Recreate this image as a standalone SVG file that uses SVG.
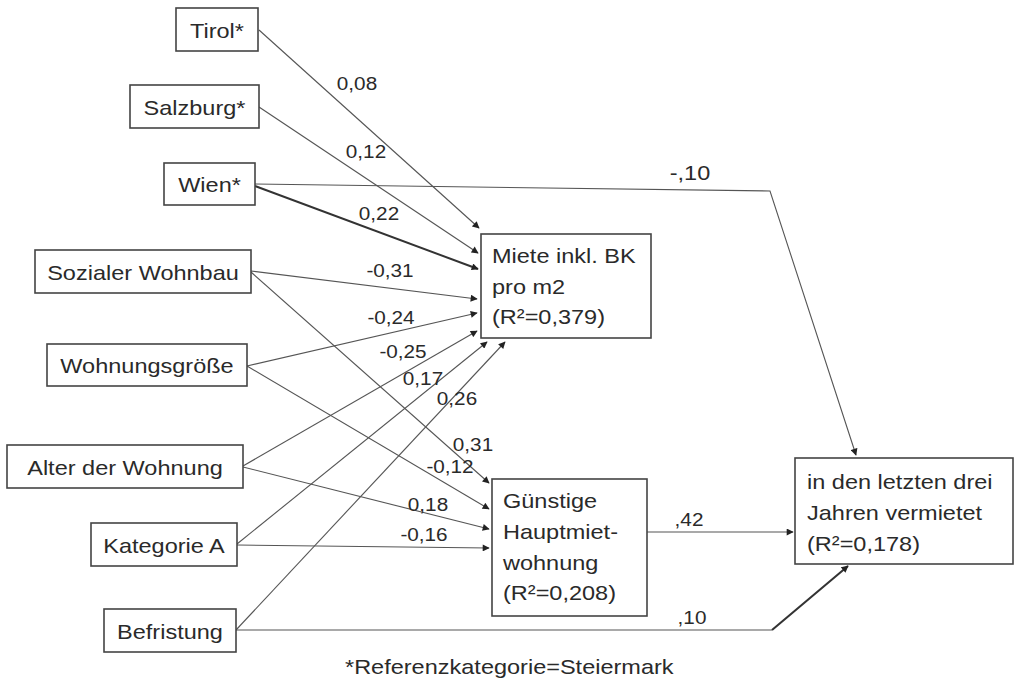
<svg xmlns="http://www.w3.org/2000/svg" width="1019" height="686" viewBox="0 0 1019 686">
<style>
.box{fill:#fff;stroke:#444;stroke-width:1.6}
.t{font-family:"Liberation Sans",Arial,sans-serif;font-size:21px;fill:#2a2a2a}
.m{text-anchor:middle}
.l{font-family:"Liberation Sans",Arial,sans-serif;font-size:18.5px;fill:#2a2a2a;text-anchor:middle}
.c{fill:none;stroke:#555;stroke-width:1.1}
.k{fill:none;stroke:#333;stroke-width:2}
</style>
<defs>
<marker id="ah" viewBox="0 0 10 10" refX="9" refY="5" markerWidth="8" markerHeight="7" markerUnits="userSpaceOnUse" orient="auto">
<path d="M0,0 L10,5 L0,10 z" fill="#222"/>
</marker>
</defs>
<rect width="1019" height="686" fill="#fff"/>
<g id="connectors">
<line class="c" x1="259" y1="30" x2="479" y2="228" marker-end="url(#ah)"/>
<line class="c" x1="259" y1="107" x2="478" y2="253" marker-end="url(#ah)"/>
<line class="k" x1="255" y1="186" x2="478" y2="269" marker-end="url(#ah)"/>
<polyline class="c" points="255,184 770,191 856,455" marker-end="url(#ah)"/>
<line class="c" x1="251" y1="271" x2="477" y2="299" marker-end="url(#ah)"/>
<line class="c" x1="247" y1="366" x2="477" y2="313" marker-end="url(#ah)"/>
<line class="c" x1="243" y1="466" x2="477" y2="331" marker-end="url(#ah)"/>
<line class="c" x1="237" y1="544" x2="487" y2="342" marker-end="url(#ah)"/>
<line class="c" x1="236" y1="630" x2="505" y2="342" marker-end="url(#ah)"/>
<line class="c" x1="251" y1="272" x2="489" y2="483" marker-end="url(#ah)"/>
<line class="c" x1="247" y1="366" x2="489" y2="509" marker-end="url(#ah)"/>
<line class="c" x1="243" y1="467" x2="489" y2="529" marker-end="url(#ah)"/>
<line class="c" x1="237" y1="545" x2="489" y2="548" marker-end="url(#ah)"/>
<line class="c" x1="647" y1="532" x2="793" y2="532" marker-end="url(#ah)"/>
<polyline class="c" points="236,630 772,630"/>
<line class="k" x1="772" y1="630" x2="848" y2="566" marker-end="url(#ah)"/>
<text class="l" transform="matrix(1.12,0,0,1,357,90)">0,08</text>
<text class="l" transform="matrix(1.12,0,0,1,366,158)">0,12</text>
<text class="l" transform="matrix(1.12,0,0,1,379,220)">0,22</text>
<text class="t m" transform="matrix(1.12,0,0,1,690,180)">-,10</text>
<text class="l" transform="matrix(1.12,0,0,1,390,277)">-0,31</text>
<text class="l" transform="matrix(1.12,0,0,1,391,324)">-0,24</text>
<text class="l" transform="matrix(1.12,0,0,1,403,358)">-0,25</text>
<text class="l" transform="matrix(1.12,0,0,1,423,385)">0,17</text>
<text class="l" transform="matrix(1.12,0,0,1,457,405)">0,26</text>
<text class="l" transform="matrix(1.12,0,0,1,473,451)">0,31</text>
<text class="l" transform="matrix(1.12,0,0,1,450,473)">-0,12</text>
<text class="l" transform="matrix(1.12,0,0,1,428,511)">0,18</text>
<text class="l" transform="matrix(1.12,0,0,1,424,541)">-0,16</text>
<text class="l" transform="matrix(1.12,0,0,1,689,526)">,42</text>
<text class="l" transform="matrix(1.12,0,0,1,692,624)">,10</text>
</g>
<g id="tirol"><rect class="box" x="176" y="8" width="82" height="43"/><text class="t m" transform="matrix(1.12,0,0,1,217,38)">Tirol*</text></g>
<g id="salzburg"><rect class="box" x="130" y="85" width="129" height="43"/><text class="t m" transform="matrix(1.12,0,0,1,194.5,115)">Salzburg*</text></g>
<g id="wien"><rect class="box" x="164" y="163" width="91" height="42"/><text class="t m" transform="matrix(1.12,0,0,1,209.5,192)">Wien*</text></g>
<g id="sozial"><rect class="box" x="35" y="250" width="216" height="43"/><text class="t m" transform="matrix(1.12,0,0,1,143,280)">Sozialer Wohnbau</text></g>
<g id="groesse"><rect class="box" x="47" y="344" width="200" height="42"/><text class="t m" transform="matrix(1.12,0,0,1,147,373)">Wohnungsgröße</text></g>
<g id="alter"><rect class="box" x="7" y="445" width="236" height="43"/><text class="t m" transform="matrix(1.12,0,0,1,125,475)">Alter der Wohnung</text></g>
<g id="kategorie"><rect class="box" x="91" y="523" width="146" height="43"/><text class="t m" transform="matrix(1.12,0,0,1,164,553)">Kategorie A</text></g>
<g id="befristung"><rect class="box" x="104" y="609" width="132" height="43"/><text class="t m" transform="matrix(1.12,0,0,1,170,639)">Befristung</text></g>
<g id="miete"><rect class="box" x="481" y="234" width="170" height="104"/>
<text class="t" transform="matrix(1.12,0,0,1,492,263)">Miete inkl. BK</text>
<text class="t" transform="matrix(1.12,0,0,1,492,294)">pro m2</text>
<text class="t" transform="matrix(1.12,0,0,1,492,324)">(R²=0,379)</text></g>
<g id="guenstig"><rect class="box" x="492" y="479" width="155" height="137"/>
<text class="t" transform="matrix(1.12,0,0,1,503,508)">Günstige</text>
<text class="t" transform="matrix(1.12,0,0,1,503,539)">Hauptmiet-</text>
<text class="t" transform="matrix(1.12,0,0,1,503,570)">wohnung</text>
<text class="t" transform="matrix(1.12,0,0,1,503,600)">(R²=0,208)</text></g>
<g id="vermietet"><rect class="box" x="795" y="458" width="218" height="106"/>
<text class="t" transform="matrix(1.12,0,0,1,807,489)">in den letzten drei</text>
<text class="t" transform="matrix(1.12,0,0,1,807,520)">Jahren vermietet</text>
<text class="t" transform="matrix(1.12,0,0,1,807,551)">(R²=0,178)</text></g>
<g id="footnote"><text class="t" transform="matrix(1.12,0,0,1,345,674)">*Referenzkategorie=Steiermark</text></g>
</svg>
